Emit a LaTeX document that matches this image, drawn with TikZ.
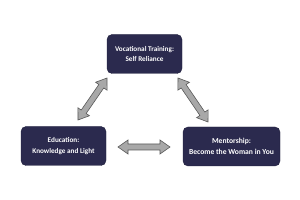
\documentclass[tikz,border=0pt]{standalone}
\usepackage{fontspec}
\setmainfont{Carlito}
\usetikzlibrary{calc}
\definecolor{navy}{HTML}{2B2A4E}
\definecolor{arrfill}{HTML}{A8A8A8}
\definecolor{arrline}{HTML}{595959}
\newcommand{\dblarrow}[2]{%
  \coordinate (#1P) at ($(#1)!10pt!(#2)$);
  \coordinate (#2Q) at ($(#2)!10pt!(#1)$);
  \draw[darrow] (#1) -- ($(#1P)!7pt!90:(#2)$) -- ($(#1P)!3pt!90:(#2)$)
    -- ($(#2Q)!3pt!-90:(#1)$) -- ($(#2Q)!7pt!-90:(#1)$) -- (#2)
    -- ($(#2Q)!7pt!90:(#1)$) -- ($(#2Q)!3pt!90:(#1)$)
    -- ($(#1P)!3pt!-90:(#2)$) -- ($(#1P)!7pt!-90:(#2)$) -- cycle;}
\begin{document}
\begin{tikzpicture}[x=1pt,y=1pt,
  box/.style={draw=navy!80!black, fill=navy, rounded corners=5pt, inner sep=0pt,
    text=white, font=\bfseries\fontsize{7.2}{10.5}\selectfont, align=center},
  darrow/.style={draw=arrline, fill=arrfill, line width=0.6pt, line join=miter}]
\useasboundingbox (0,0) rectangle (300,200);
\node[box, minimum width=75pt, minimum height=39pt] (top) at (144.5,146) {Vocational Training:\\Self Reliance};
\node[box, minimum width=85pt, minimum height=39pt] (left) at (63.5,54) {Education:\\Knowledge and Light};
\node[box, minimum width=97pt, minimum height=39pt, font=\bfseries\fontsize{7.6}{10.5}\selectfont] (right) at (231.5,53.5) {Mentorship:\\Become the Woman in You};
\coordinate (l1) at (107,122);
\coordinate (l2) at (78,80);
\coordinate (r1) at (178,122);
\coordinate (r2) at (208,78);
\coordinate (h1) at (118,53);
\coordinate (h2) at (170,53);
\dblarrow{l1}{l2}
\dblarrow{r1}{r2}
\dblarrow{h1}{h2}
\end{tikzpicture}
\end{document}
